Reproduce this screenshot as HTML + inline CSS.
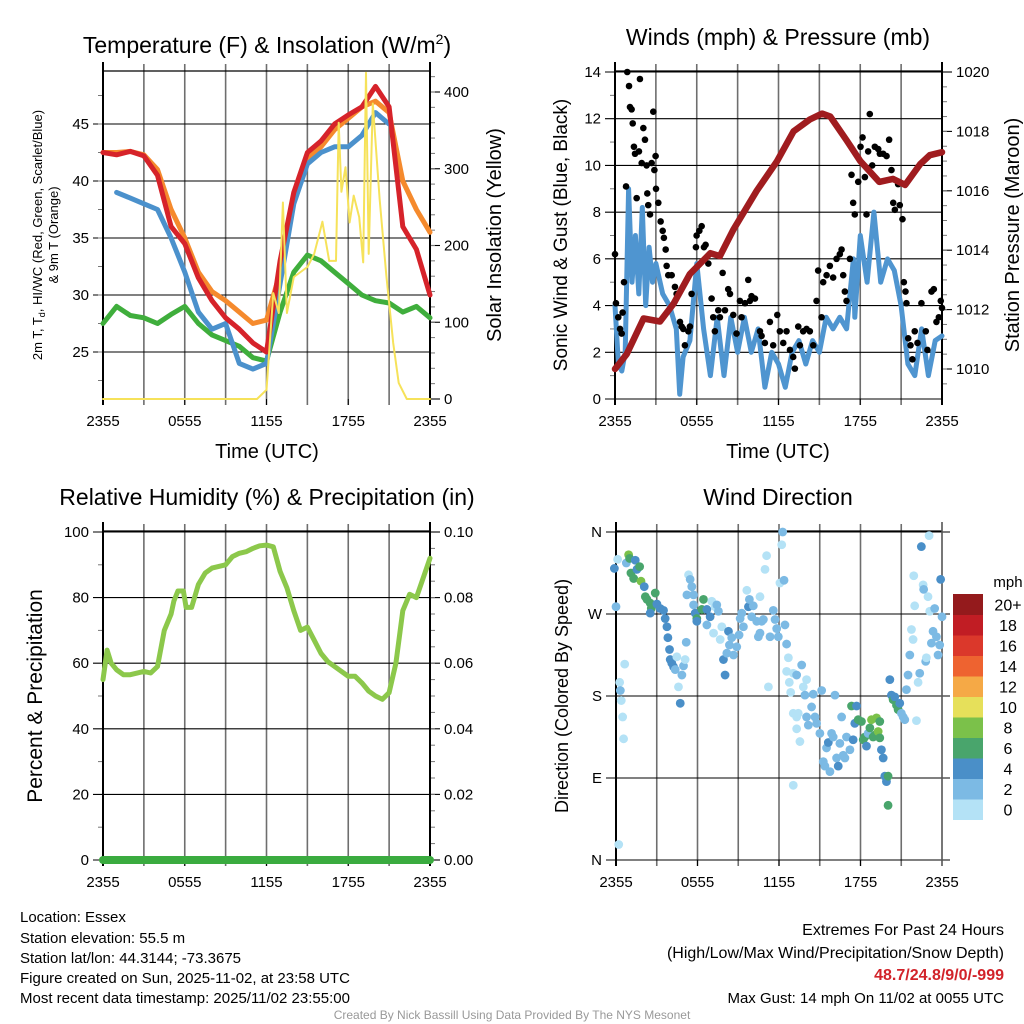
<!DOCTYPE html>
<html><head><meta charset="utf-8">
<style>
html,body{margin:0;padding:0;background:#fff;}
svg{display:block;font-family:"Liberation Sans",Arial,sans-serif;}
</style></head>
<body>
<svg id="root" width="1024" height="1024" viewBox="0 0 1024 1024" xmlns="http://www.w3.org/2000/svg">
<text x="267" y="53" font-size="23" text-anchor="middle">Temperature (F) &amp; Insolation (W/m<tspan font-size="14" dy="-9">2</tspan><tspan dy="9">)</tspan></text>
<text x="778" y="45" font-size="23" text-anchor="middle">Winds (mph) &amp; Pressure (mb)</text>
<text x="267" y="505" font-size="23" text-anchor="middle">Relative Humidity (%) &amp; Precipitation (in)</text>
<text x="778" y="505" font-size="23" text-anchor="middle">Wind Direction</text>

<text x="267" y="458" font-size="20" text-anchor="middle">Time (UTC)</text>
<text x="778" y="458" font-size="20" text-anchor="middle">Time (UTC)</text>

<text transform="translate(42,235) rotate(-90)" font-size="13" text-anchor="middle">2m T, T<tspan font-size="9" dy="3">d</tspan><tspan dy="-3">, HI/WC (Red, Green, Scarlet/Blue)</tspan></text>
<text transform="translate(58,235) rotate(-90)" font-size="13" text-anchor="middle">&amp; 9m T (Orange)</text>
<text transform="translate(501,235) rotate(-90)" font-size="20" text-anchor="middle">Solar Insolation (Yellow)</text>
<text transform="translate(567,235) rotate(-90)" font-size="19" text-anchor="middle">Sonic Wind &amp; Gust (Blue, Black)</text>
<text transform="translate(1019,235) rotate(-90)" font-size="20" text-anchor="middle">Station Pressure (Maroon)</text>
<text transform="translate(42,696) rotate(-90)" font-size="21" text-anchor="middle">Percent &amp; Precipitation</text>
<text transform="translate(568,696) rotate(-90)" font-size="18" text-anchor="middle">Direction (Colored By Speed)</text>

<g font-size="15">
<text x="20" y="922">Location: Essex</text>
<text x="20" y="943">Station elevation: 55.5 m</text>
<text x="20" y="963">Station lat/lon: 44.3144; -73.3675</text>
<text x="20" y="983">Figure created on Sun, 2025-11-02, at 23:58 UTC</text>
<text x="20" y="1003">Most recent data timestamp: 2025/11/02 23:55:00</text>
</g>
<g font-size="16" text-anchor="end">
<text x="1004" y="935">Extremes For Past 24 Hours</text>
<text x="1004" y="958">(High/Low/Max Wind/Precipitation/Snow Depth)</text>
<text x="1004" y="980" fill="#d2232a" font-weight="bold">48.7/24.8/9/0/-999</text>
<text x="1004" y="1003" font-size="15">Max Gust: 14 mph On 11/02 at 0055 UTC</text>
</g>
<text x="512" y="1019" font-size="12" fill="#999" text-anchor="middle">Created By Nick Bassill Using Data Provided By The NYS Mesonet</text>
</svg>
<script>
// ---------- data ----------
const timeTicks = ["2355","0555","1155","1755","2355"];
const tempHours = [0,1,2,3,4,5,6,7,8,9,10,11,12,13,14,15,16,17,18,19,20,21,22,23,24];
const tempRed    = [42.5,42.3,42.6,42.2,40.5,36,34.5,31.5,29.5,28,27,25.8,25,33,39,42.5,43.5,45,45.8,46.5,48.3,46.5,36,34,30];
const tempOrange = [42.5,42.5,42.6,42.3,41,37.5,35,32,30.3,29.5,28.5,27.5,27.8,32,38.5,42,43,44.5,45.5,46.5,47,46,40,37.5,35.5];
const tempBlue   = [null,39,38.5,38,37.5,35,32,28.5,27,27.5,24,23.5,24,31,38,41.5,42.5,43,43,44,46,45,null,null,null];
const tempGreen  = [27.5,29,28.2,28,27.5,28.3,29,27.5,26.5,26,25.5,24.5,24.2,28.5,32,33.5,33,32,31,30,29.5,29.3,28.5,29,28];
const solarHours = [0,11.3,12.0,12.5,12.9,13.2,13.5,14.0,15.0,15.5,16.1,16.6,17.1,17.3,17.5,17.8,18.1,18.4,18.8,19.1,19.3,19.5,19.8,20.3,20.8,21.3,21.7,22.3,24];
const solarValues = [0,0,12,138,112,256,112,159,172,189,231,180,180,360,270,302,230,265,237,178,425,189,385,261,160,73,21,0,0];
const tempTicks = [25,30,35,40,45];
const solarTicks = [0,100,200,300,400];

const windHours = [0,0.25,0.5,0.75,1,1.25,1.5,1.75,2,2.25,2.5,2.75,3,3.5,4,4.5,4.75,5,5.5,6,6.5,7,7.5,8,8.5,9,9.5,10,10.5,11,11.5,12,12.5,13,13.5,14,14.5,15,15.5,16,16.5,17,17.5,17.6,18,18.5,19,19.5,20,20.5,21,21.5,22,22.5,23,23.5,24];
const windSpeed = [4,1.5,1.2,2,9,5,7,4.5,8.2,4,6.5,5,5.8,4.5,4,3,0.2,1.8,2.5,5.8,3,1,3.5,1,3.5,2,3.5,2,3,0.5,2,1.5,0.5,2,2.5,1.5,2.5,2,3.5,3,3.5,3,6,3.5,7,5,8,5,6,5.5,4,1.5,1,3,1,2.5,2.7];
const gustHours = [0,.07,.24,.37,.49,.56,.66,.81,.9,1.03,1.1,1.22,1.3,1.39,1.47,1.59,1.76,1.83,1.96,2.08,2.2,2.32,2.37,2.44,2.57,2.69,2.81,2.89,2.98,3.01,3.18,3.35,3.5,3.59,3.72,3.79,3.91,4.16,4.4,4.52,4.77,4.89,5.01,5.13,5.38,5.5,5.62,5.94,5.99,6.19,6.36,6.53,6.65,6.85,7.09,7.21,7.33,7.58,7.7,7.9,8.07,8.31,8.44,8.68,8.92,9.17,9.29,9.54,9.78,9.9,10.02,10.27,10.64,10.76,11.0,11.37,11.61,11.91,12.1,12.35,12.59,12.84,13.08,13.2,13.45,13.57,13.81,14.06,14.3,14.55,14.79,14.91,15.16,15.28,15.53,15.77,16.01,16.26,16.5,16.63,16.75,16.87,16.99,17.24,17.36,17.48,17.6,17.85,18.02,18.17,18.34,18.46,18.58,18.7,18.88,19.07,19.32,19.44,19.68,19.93,20.12,20.29,20.42,20.54,20.78,20.9,21.1,21.2,21.32,21.39,21.52,21.69,21.83,22.0,22.2,22.49,22.81,22.93,23.23,23.4,23.59,23.77,23.91,24.0];
const gustValues = [6.2,4.1,3.5,3,2.8,3.7,5,9.1,14,13.4,12.5,12.4,11.8,10.8,10.5,8.6,10.6,13.7,10.1,11.6,11.1,10,8.8,8.3,7.9,10.1,12.3,9.8,10.4,9,8.4,7.6,7.2,6.9,6.4,5.7,5.3,5.3,4.8,4.5,3.3,3.1,3,2.3,2.9,3.1,4.5,6.5,7,7.2,7.4,6.5,6.6,5.8,4.3,3.5,2.9,3.8,3.5,5.4,3.8,4.7,4.5,3.6,2.8,4.2,3.5,4.1,5.1,4.2,4.4,4.3,2.9,2.7,2.4,3.3,2.3,3.6,2.9,2.4,2.9,2.1,1.8,1.3,3.1,2.3,2.9,3,2.9,2.3,4.2,5.5,3.5,5,5.3,5.7,5.2,6,6.2,6.4,5.3,4.6,4.2,6,9.6,8.4,7.9,9.3,10.8,11.2,9.5,7.9,10.6,12.2,10,10.8,10.7,10.5,10.5,10.4,11.1,9.8,8.4,8.1,9.2,8.3,7.7,5,4.6,4.1,2.6,2.3,1.7,2.9,2.4,4.1,2.9,2.1,4.6,4.7,3.3,3.5,4.2,3.9];
const pressHours = [0,0.86,2.1,3.3,4.3,5.5,7,7.7,8.7,10.4,11.9,13.1,14.3,15.2,15.8,17,18,19.4,20.4,21.3,22.4,23.1,24];
const pressValues = [1010,1010.5,1011.7,1011.6,1012.2,1013.2,1013.9,1013.8,1014.7,1016,1017,1018,1018.4,1018.6,1018.5,1017.7,1017,1016.3,1016.4,1016.2,1016.9,1017.2,1017.3];
const windTicks = [0,2,4,6,8,10,12,14];
const pressTicks = [1010,1012,1014,1016,1018,1020];

const rhHours = [0,0.3,0.6,1,1.5,2,3,3.5,4,4.5,5,5.2,5.5,5.9,6.1,6.5,7,7.5,8,8.5,9,9.5,10,10.5,11,11.5,12,12.5,13,13.5,14,14.5,15,15.5,16,16.5,17,17.5,18,18.5,19,19.5,20,20.5,21,21.5,22,22.5,23,23.5,24];
const rhValues = [55,64,60,58,56.5,56.5,57.5,57,59,70,75,79,82,82,77,77,84,87.5,89,89.5,90,92.5,93.5,94,95,95.8,96,95.5,88,83,76,70,71,67,63,60.5,59,57.5,56,56,54,51.5,50,49,51,60,76,81,80,86,92];
const precipHours = [0,24];
const precipValues = [0,0];
const rhTicks = [0,20,40,60,80,100];
const precipTicks = ["0.00","0.02","0.04","0.06","0.08","0.10"];

const dirHours = [-0.12,0,.12,.64,.27,.32,.39,.49,.56,.2,.76,.93,1.0,1.42,1.1,1.3,1.54,1.74,1.84,2.08,2.16,2.28,2.52,2.6,2.89,2.52,3.01,3.26,3.5,3.62,3.75,3.82,3.94,3.99,4.11,4.24,4.36,4.48,4.6,4.73,4.85,4.97,5.09,5.17,5.34,5.46,5.58,5.22,5.71,5.71,5.83,5.95,5.95,6.32,6.44,6.69,6.69,6.93,7.05,7.18,7.3,7.42,7.54,7.67,7.79,7.91,8.03,8.16,8.28,8.35,8.52,8.65,8.89,9.06,9.14,9.26,9.38,9.63,9.75,9.82,9.99,10.11,10.36,10.48,10.6,10.73,10.6,10.85,11.09,10.97,11.22,11.34,11.58,11.71,11.83,11.95,12.07,12.2,12.27,12.37,12.44,12.56,12.69,12.56,12.76,12.86,13.05,13.3,13.67,13.79,13.91,14.03,13.05,13.3,13.42,13.3,13.54,13.05,14.03,14.16,14.4,14.52,14.65,14.77,15.01,15.14,15.26,15.38,15.5,15.63,15.75,15.87,15.99,16.12,16.24,16.36,16.48,16.61,16.73,16.85,16.97,17.22,17.34,17.46,17.58,17.71,17.83,18.07,18.2,18.32,18.44,18.56,18.69,18.81,18.93,19.05,19.18,19.3,19.42,19.42,19.54,19.67,19.79,19.91,20.03,20.03,20.16,20.28,20.4,20.52,20.65,20.77,20.89,21.01,21.14,21.26,21.38,21.5,21.63,21.75,21.87,21.92,21.99,22.24,22.36,22.48,22.61,22.65,22.8,22.85,22.97,23.05,23.1,23.22,23.34,23.46,23.59,23.71,23.83,23.9,24.0,22.12];
const dirDegrees = [320,278,330,215,195,186,175,157,133,17,326,335,331,329,315,309,319,322,306,300,289,286,282,276,293,271,281,276,274,265,256,244,231,220,216,212,209,223,190,172,203,213,220,239,313,308,300,291,291,280,271,265,262,275,286,275,258,267,284,249,278,280,273,242,256,220,203,227,251,236,244,225,234,247,265,271,256,296,278,286,267,279,262,245,249,262,289,264,334,319,190,245,274,264,254,245,304,346,360,307,258,237,222,207,195,184,205,203,214,190,181,198,161,157,161,144,130,82,157,148,168,182,157,150,139,186,108,103,123,129,97,139,135,181,112,103,128,157,115,112,135,121,169,132,150,169,154,152,132,135,125,139,145,154,135,137,156,141,152,134,121,112,92,86,92,60,198,181,176,179,170,165,172,161,157,154,187,203,225,253,242,312,279,195,205,344,302,297,218,222,289,356,273,238,251,276,245,225,236,308,267,153];
const dirSpeeds = [5,3,1,1,1,3,1,1,1,1,3,9,7,5,7,7,5,7,9,5,7,7,7,7,7,5,5,5,5,5,5,5,5,5,5,5,3,1,1,5,3,3,1,3,1,3,3,3,3,3,5,7,5,7,7,5,3,5,1,1,1,3,3,1,1,5,5,3,5,3,3,3,3,3,3,3,3,1,5,3,3,3,3,3,3,3,1,3,1,1,1,3,3,3,3,3,1,1,3,3,3,3,1,1,1,1,1,3,3,1,3,1,1,1,1,1,1,1,3,3,3,3,3,3,3,3,3,3,3,5,3,3,3,3,3,5,3,3,3,3,3,3,7,5,5,5,7,7,7,7,5,3,7,9,7,7,9,9,7,7,5,5,5,5,7,7,5,5,7,5,7,7,5,3,3,3,3,3,3,1,1,1,1,1,3,5,1,3,3,1,1,1,1,3,3,3,3,3,3,5,3,1];
const dirTicks = ["N","E","S","W","N"];
const speedBins = ["0","2","4","6","8","10","12","14","16","18","20+"];
const speedColors = ["#b4e2f6","#7cbae4","#4a8fc8","#49a56c","#7bc14a","#e6e05a","#f5a946","#ee6330","#db382b","#c11d24","#941a1c"];

// ---------- helpers ----------
const NS = "http://www.w3.org/2000/svg";
const root = document.getElementById("root");
function mk(tag, attrs, parent){
  const e = document.createElementNS(NS, tag);
  for (const k in attrs) e.setAttribute(k, attrs[k]);
  (parent || root).appendChild(e);
  return e;
}
function lin(d0,d1,r0,r1){ return v => r0 + (v-d0)*(r1-r0)/(d1-d0); }
function pathFrom(xs, ys, sx, sy){
  let d = "", pen = false;
  for (let i=0;i<xs.length;i++){
    if (ys[i]===null){ pen=false; continue; }
    d += (pen ? "L" : "M") + sx(xs[i]).toFixed(1) + "," + sy(ys[i]).toFixed(1);
    pen = true;
  }
  return d;
}

function drawFrame(p){
  const g = mk("g", {});
  
  
  // vertical gridlines every 3h
  for (let h=3; h<24; h+=3){
    const x = p.sx(h);
    const l = mk("line", {x1:x, y1:p.y0-8, x2:x, y2:p.y1+6, stroke:"#6e6e6e", "stroke-width":1.6}, g);
    
    
  }
  // x tick labels
  timeTicks.forEach((t,i)=>{
    const h = i*6;
    const x = p.sx(h);
    mk("line", {x1:x, y1:p.y1, x2:x, y2:p.y1+6, stroke:"#000", "stroke-width":1}, g);
    const tx = mk("text", {x:x, y:p.y1+27, "font-size":15, "text-anchor":"middle"}, g);
    tx.textContent = t;
    
    
  });
  // left ticks + horizontal grid
  p.leftTicks.forEach((v,i)=>{
    const y = p.sl(p.leftVals ? p.leftVals[i] : v);
    const gl = mk("line", {x1:p.x0-10, y1:y, x2:p.x1+(p.gridExt||0), y2:y, stroke:"#000", "stroke-width":1.1}, g);
    
    
    const tx = mk("text", {x:p.x0-14, y:y+5, "font-size":15, "text-anchor":"end"}, g);
    tx.textContent = v;
    
    
  });
  if (p.leftMinor) p.leftMinor.forEach(v=>{
    const y = p.sl(v);
    mk("line", {x1:p.x0-5, y1:y, x2:p.x0, y2:y, stroke:"#777", "stroke-width":1}, g);
  });
  if (p.rightTicks){
    p.rightTicks.forEach((v,i)=>{
      const y = p.sr(p.rightVals ? p.rightVals[i] : v);
      mk("line", {x1:p.x1, y1:y, x2:p.x1+10, y2:y, stroke:"#000", "stroke-width":1.1}, g);
      const tx = mk("text", {x:p.x1+14, y:y+5, "font-size":15}, g);
      tx.textContent = v;
      
      
    });
    p.rightMinor.forEach(v=>{
      const y = p.sr(v);
      mk("line", {x1:p.x1, y1:y, x2:p.x1+5, y2:y, stroke:"#777", "stroke-width":1}, g);
    });
  }
  // border
  mk("line", {x1:p.x0, y1:p.y0-1, x2:p.x1, y2:p.y0-1, stroke:"#000", "stroke-width":1.2}, g);
  mk("line", {x1:p.x0, y1:p.y0-10, x2:p.x0, y2:p.y1+6, stroke:"#000", "stroke-width":2}, g);
  if (p.rightTicks) mk("line", {x1:p.x1, y1:p.y0-10, x2:p.x1, y2:p.y1+6, stroke:"#000", "stroke-width":2}, g);
  else mk("line", {x1:p.x1, y1:p.y0-10, x2:p.x1, y2:p.y1+6, stroke:"#555", "stroke-width":1.6}, g);
  return g;
}
function range(a,b,s){ const r=[]; for(let v=a; v<=b+1e-9; v+=s) r.push(+v.toFixed(4)); return r; }
function series(d, color, w, name, opacity){
  const e = mk("path", {d:d, fill:"none", stroke:color, "stroke-width":w, "stroke-linejoin":"round", "stroke-linecap":"round"});
  if (opacity) e.setAttribute("stroke-opacity", opacity);
  
  
  return e;
}

// ---------- panel 1 ----------
const p1 = {name:"temperature", x0:103, x1:430, y0:72, y1:399};
p1.sx = lin(0,24,p1.x0,p1.x1);
p1.sl = lin(25,45,352,124);
p1.sr = lin(0,400,399,92);
p1.leftTicks = tempTicks; p1.leftMinor = range(22.5,47.5,2.5);
p1.rightTicks = solarTicks; p1.rightMinor = range(20,420,20);
drawFrame(p1);
series(pathFrom(tempHours,tempGreen,p1.sx,p1.sl), "#3fae3c", 5, "dewpoint-line");
series(pathFrom(tempHours,tempOrange,p1.sx,p1.sl), "#f58a2d", 5, "temp-9m-line");
series(pathFrom(tempHours,tempBlue,p1.sx,p1.sl), "#4b91cc", 5, "windchill-line");
series(pathFrom(tempHours,tempRed,p1.sx,p1.sl), "#d6232a", 5, "temp-2m-line");
series(pathFrom(solarHours,solarValues,p1.sx,p1.sr), "#f6e25a", 2, "solar-line");

// ---------- panel 2 ----------
const p2 = {name:"winds", x0:615, x1:942, y0:72, y1:399};
p2.sx = lin(0,24,p2.x0,p2.x1);
p2.sl = lin(0,14,399,72);
p2.sr = lin(1010,1020,369,72);
p2.leftTicks = windTicks; p2.leftMinor = range(1,13,2);
p2.rightTicks = pressTicks; p2.rightMinor = range(1009.5,1019.5,0.5);
drawFrame(p2);
series(pathFrom(windHours,windSpeed,p2.sx,p2.sl), "#4f95d0", 5, "sonic-wind-line");
const gustG = mk("g", {fill:"#000"});


gustHours.forEach((h,i)=>{
  const c = mk("circle", {cx:p2.sx(h), cy:p2.sl(gustValues[i]), r:3.3}, gustG);
  
  
});
series(pathFrom(pressHours,pressValues,p2.sx,p2.sr), "#a01c1f", 6.5, "pressure-line");

// ---------- panel 3 ----------
const p3 = {name:"humidity", x0:103, x1:430, y0:532, y1:860};
p3.sx = lin(0,24,p3.x0,p3.x1);
p3.sl = lin(0,100,860,532);
p3.sr = lin(0,0.1,860,532);
p3.leftTicks = rhTicks; p3.leftMinor = range(10,90,20);
p3.rightTicks = precipTicks; p3.rightVals = [0,0.02,0.04,0.06,0.08,0.10]; p3.rightMinor = range(0.005,0.095,0.005);
drawFrame(p3);
series(pathFrom(rhHours,rhValues,p3.sx,p3.sl), "#8cc84b", 5, "humidity-line");
series(pathFrom(precipHours,precipValues,p3.sx,p3.sr), "#3aab3f", 8, "precipitation-line");

// ---------- panel 4 ----------
const p4 = {name:"wind-direction", x0:616, x1:942, y0:532, y1:860, gridExt:8};
p4.sx = lin(0,24,p4.x0,p4.x1);
p4.sl = lin(0,360,860,532);
p4.leftTicks = dirTicks; p4.leftVals = [0,90,180,270,360];
drawFrame(p4);
const dirG = mk("g", {});


dirHours.forEach((h,i)=>{
  const bin = Math.min(10, Math.floor(dirSpeeds[i]/2));
  const c = mk("circle", {cx:p4.sx(h), cy:p4.sl(dirDegrees[i]), r:4.4, fill:speedColors[bin]}, dirG);
  
  
});
// colorbar
const cb = mk("g", {});


const cbTop = 594, cbH = 20.5;
const ct = mk("text", {x:1008, y:587, "font-size":15, "text-anchor":"middle"}, cb);
ct.textContent = "mph";
speedBins.forEach((lab,i)=>{
  const y = cbTop + (10-i)*cbH;
  const r = mk("rect", {x:953, y:y, width:30, height:cbH+0.5, fill:speedColors[i]}, cb);
  
  
  const t = mk("text", {x:1008, y:y+cbH/2+6, "font-size":16, "text-anchor":"middle"}, cb);
  t.textContent = lab;
  
  
});
</script>
</body></html>
